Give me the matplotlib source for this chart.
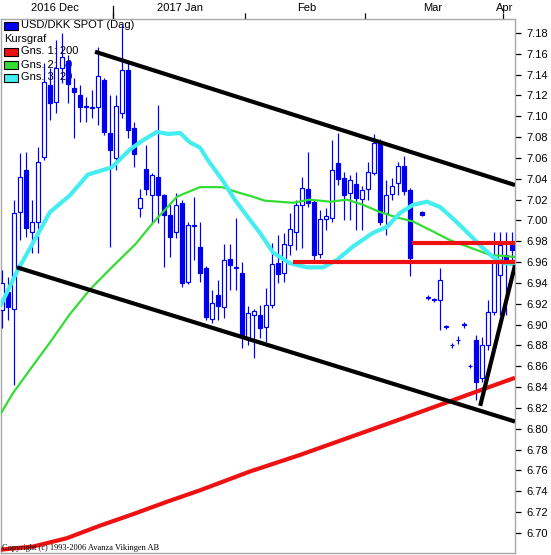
import numpy as np
import matplotlib
matplotlib.use('Agg')
import matplotlib.pyplot as plt
from matplotlib.patches import Rectangle
import matplotlib.transforms as mtransforms

# ---------------- data ----------------
opens = [6.914, 6.931, 6.915, 7.008, 7.048, 6.989, 6.999, 7.061, 7.130, 7.114,
         7.146, 7.153, 7.127, 7.120, 7.110, 7.109, 7.109, 7.135, 7.084, 7.060,
         7.103, 7.144, 7.089, 7.012, 7.049, 7.024, 7.042, 7.024, 7.005, 6.989,
         7.017, 6.941, 6.996, 6.975, 6.954, 6.905, 6.928, 6.917, 6.963, 6.955,
         6.950, 6.888, 6.909, 6.909, 6.898, 6.919, 6.959, 6.950, 6.976, 6.989,
         7.015, 7.030, 7.018, 6.968, 7.001, 7.002, 7.055, 7.041, 7.026, 7.035,
         7.021, 7.030, 7.046, 7.074, 7.007, 7.025, 7.036, 7.052, 7.029, np.nan,
         7.008, 6.926, 6.924, 6.924, 6.898, 6.880, 6.885, 6.900, 6.860, 6.885,
         6.849, 6.880, 6.912, 6.948, 6.967, 6.976]
highs = [6.952, 6.946, 7.020, 7.065, 7.066, 7.020, 7.071, 7.151, 7.146, 7.173,
         7.180, 7.159, 7.137, 7.130, 7.119, 7.125, 7.167, 7.137, 7.120, 7.120,
         7.188, 7.151, 7.095, 7.030, 7.072, 7.046, 7.111, 7.025, 7.017, 7.026,
         7.020, 6.999, 7.023, 6.999, 6.956, 6.933, 6.943, 6.977, 6.977, 7.002,
         6.960, 6.918, 6.915, 6.919, 6.935, 6.978, 6.986, 6.988, 7.007, 7.020,
         7.042, 7.066, 7.020, 7.010, 7.012, 7.077, 7.084, 7.047, 7.044, 7.047,
         7.033, 7.056, 7.083, 7.078, 7.039, 7.041, 7.056, 7.062, 7.031, np.nan,
         7.009, 6.928, 6.926, 6.954, 6.900, 6.882, 6.889, 6.903, 6.862, 6.890,
         6.888, 6.924, 6.989, 6.989, 6.989, 6.989]
lows = [6.897, 6.904, 6.842, 6.981, 6.984, 6.969, 6.969, 7.058, 7.096, 7.103,
        7.132, 7.113, 7.079, 7.095, 7.095, 7.098, 7.092, 7.082, 6.975, 7.048,
        7.098, 7.079, 7.051, 7.003, 7.024, 6.997, 6.998, 6.955, 6.965, 6.983,
        6.936, 6.939, 6.962, 6.941, 6.904, 6.902, 6.904, 6.906, 6.933, 6.933,
        6.878, 6.880, 6.868, 6.887, 6.883, 6.916, 6.940, 6.941, 6.967, 6.972,
        6.974, 7.013, 6.960, 6.964, 6.991, 6.999, 7.034, 7.000, 7.000, 6.991,
        6.991, 7.020, 7.044, 6.996, 6.986, 7.020, 7.024, 7.024, 6.947, np.nan,
        7.004, 6.924, 6.922, 6.895, 6.896, 6.878, 6.881, 6.897, 6.858, 6.828,
        6.845, 6.876, 6.909, 6.909, 6.909, 6.957]
closes = [6.940, 6.917, 7.007, 7.042, 6.993, 6.999, 7.056, 7.133, 7.113, 7.146,
          7.157, 7.131, 7.123, 7.109, 7.109, 7.108, 7.139, 7.085, 7.068, 7.110,
          7.144, 7.087, 7.064, 7.022, 7.030, 7.044, 7.024, 7.005, 6.984, 7.015,
          6.940, 6.996, 6.995, 6.950, 6.907, 6.921, 6.918, 6.962, 6.957, 6.954,
          6.890, 6.911, 6.913, 6.897, 6.919, 6.958, 6.949, 6.977, 6.992, 7.015,
          7.031, 7.017, 6.967, 7.001, 7.004, 7.048, 7.040, 7.024, 7.039, 7.022,
          7.029, 7.047, 7.074, 6.999, 7.024, 7.033, 7.052, 7.028, 6.964, np.nan,
          7.005, 6.926, 6.924, 6.943, 6.898, 6.880, 6.885, 6.900, 6.860, 6.845,
          6.880, 6.912, 6.960, 6.976, 6.963, 6.972]

# moving averages (day index, value)
ma200_day = [-0.17, 5.2, 10.8, 16.3, 21.8, 27.5, 33, 41.3, 49.7, 58, 66.3, 73, 79.7, 85.5]
ma200_val = [6.684, 6.687, 6.695, 6.707, 6.718, 6.730, 6.741, 6.759, 6.775, 6.792,
             6.809, 6.823, 6.837, 6.849]
ma50_day = [-0.17, 1.8, 5.2, 8, 11.3, 14.7, 18.3, 22.2, 25.2, 29.2, 33, 36.7, 39.3,
            41.7, 43.8, 48.5, 51.3, 54.7, 57.5, 60.2, 63, 65.8, 68.5, 71.3, 74.7,
            78, 81.3, 85.5]
ma50_val = [6.815, 6.834, 6.861, 6.883, 6.910, 6.934, 6.955, 6.977, 6.998, 7.023,
            7.032, 7.032, 7.027, 7.023, 7.019, 7.017, 7.020, 7.018, 7.020, 7.015,
            7.008, 7.003, 6.999, 6.991, 6.981, 6.974, 6.967, 6.965]
ma20_day = [-0.17, 2.5, 5.2, 8, 11.3, 14.3, 18.3, 21.3, 23.5, 25.8, 27.7, 29.7, 31.3,
            33, 34.3, 36.7, 38.8, 41, 43, 45.2, 48, 50.8, 53.5, 55.8, 58.5, 61.8,
            64.2, 66.3, 68.5, 70.8, 73, 75.5, 78, 79.7, 81.8, 83.8, 85.5]
ma20_val = [6.919, 6.951, 6.979, 7.008, 7.024, 7.044, 7.051, 7.068, 7.077, 7.085,
            7.083, 7.084, 7.075, 7.070, 7.058, 7.039, 7.020, 7.003, 6.988, 6.969,
            6.959, 6.955, 6.955, 6.962, 6.975, 6.988, 6.994, 7.007, 7.015, 7.018,
            7.013, 7.000, 6.986, 6.976, 6.965, 6.959, 6.958]

# trend lines (day index, value)
upper_day, upper_val = [15.5, 85.5], [7.162, 7.034]
lower_day, lower_val = [2.5, 85.5], [6.955, 6.807]
rebound_day, rebound_val = [79.7, 85.5], [6.822, 6.957]
level1_day, level1_val = [48.5, 85.5], [6.960, 6.960]
level2_day, level2_val = [68.3, 85.5], [6.978, 6.978]

month_labels = ["2016 Dec", "2017 Jan", "Feb", "Mar", "Apr"]
month_label_day = [8.8, 29.7, 50.8, 71.8, 83.8]
month_start_day = [18.5, 40.5, 60.5, 83.5]
yticks = [6.70, 6.72, 6.74, 6.76, 6.78, 6.80, 6.82, 6.84, 6.86, 6.88, 6.90, 6.92,
          6.94, 6.96, 6.98, 7.00, 7.02, 7.04, 7.06, 7.08, 7.10, 7.12, 7.14, 7.16, 7.18]

legend_items = [("USD/DKK SPOT (Dag)", "#0000ee"), ("Kursgraf", None),
                ("Gns. 1: 200", "#ee1111"), ("Gns. 2: 50", "#33dd33"),
                ("Gns. 3: 20", "#44eef0")]

# ---------------- figure ----------------
plt.rcParams['font.family'] = ['Liberation Sans', 'DejaVu Sans']
W, H = 551, 555
fig = plt.figure(figsize=(W / 100, H / 100), dpi=100)
ax = fig.add_axes([1 / W, 2 / H, 514 / W, 534 / H])
ax.set_xlim(-1 / 6, 85.5)
ax.set_ylim(6.6808, 7.1934)

BLUE = "#0000ee"
PX = 0.72  # one pixel in points
bw = 0.8
for i, (o, h, l, c) in enumerate(zip(opens, highs, lows, closes)):
    if np.isnan(o):
        continue
    ax.plot([i, i], [l, h], color=BLUE, lw=PX * 1.2, zorder=3, solid_capstyle='butt')
    lo, hi = min(o, c), max(o, c)
    filled = c < o
    ax.add_patch(Rectangle((i - bw / 2, lo), bw, max(hi - lo, 0.0004),
                           facecolor=BLUE if filled else 'white',
                           edgecolor=BLUE, lw=PX * 1.2, zorder=4))

ax.plot(ma200_day, ma200_val, color="#ee1111", lw=3.0, zorder=5, solid_capstyle='butt')
ax.plot(ma50_day, ma50_val, color="#33dd33", lw=1.6, zorder=5)
ax.plot(ma20_day, ma20_val, color="#44eef0", lw=3.0, zorder=5)

ax.plot(level1_day, level1_val, color="#ee1111", lw=3.0, zorder=6, solid_capstyle='butt')
ax.plot(level2_day, level2_val, color="#ee1111", lw=3.0, zorder=6, solid_capstyle='butt')
for d, v in [(upper_day, upper_val), (lower_day, lower_val), (rebound_day, rebound_val)]:
    ax.plot(d, v, color="black", lw=3.0, zorder=7, solid_capstyle='butt')

# axes styling
for s in ax.spines.values():
    s.set_color("#a8a8a8")
    s.set_linewidth(1.0)
ax.yaxis.tick_right()
ax.set_yticks(yticks)
ax.set_yticklabels([f"{t:.2f}" for t in yticks])
ax.tick_params(axis='y', length=4, width=0.9, pad=4, labelsize=8, colors='black')
ax.xaxis.tick_top()
ax.set_xticks(month_start_day)
ax.set_xticklabels([])
ax.tick_params(axis='x', length=4, width=0.9, colors='black')

trans = mtransforms.blended_transform_factory(ax.transData, ax.transAxes)
ax.plot([month_start_day[0]] * 2, [1.0, 1.0 + 13 / 534], color='black', lw=0.9,
        transform=trans, clip_on=False)
for lab, d in zip(month_labels, month_label_day):
    ax.text(d, 1.0 + 11 / 534, lab, transform=trans, ha='center', va='center',
            fontsize=8, color='black')

# legend (behind the candles)
def fx(px):
    return px / W

def fy(py):
    return 1 - py / H

rows = [25.5, 38.5, 51.5, 64.5, 77.5]
for (lab, col), ry in zip(legend_items, rows):
    if col is None:
        ax.text(fx(4), fy(ry), lab, transform=fig.transFigure, ha='left', va='center',
                fontsize=8, zorder=1)
    else:
        ax.add_patch(Rectangle((fx(4), fy(ry + 4)), 14 / W, 8 / H, transform=fig.transFigure,
                               facecolor=col, edgecolor='black', lw=0.8, zorder=1,
                               clip_on=False))
        ax.text(fx(21), fy(ry), lab, transform=fig.transFigure, ha='left', va='center',
                fontsize=8, zorder=1)

ax.text(fx(2), fy(548), "Copyright (c) 1993-2006 Avanza Vikingen AB",
        transform=fig.transFigure, ha='left', va='center', fontsize=6,
        family=['Liberation Serif', 'DejaVu Serif'], zorder=8)

fig.savefig("out.png", dpi=100)
